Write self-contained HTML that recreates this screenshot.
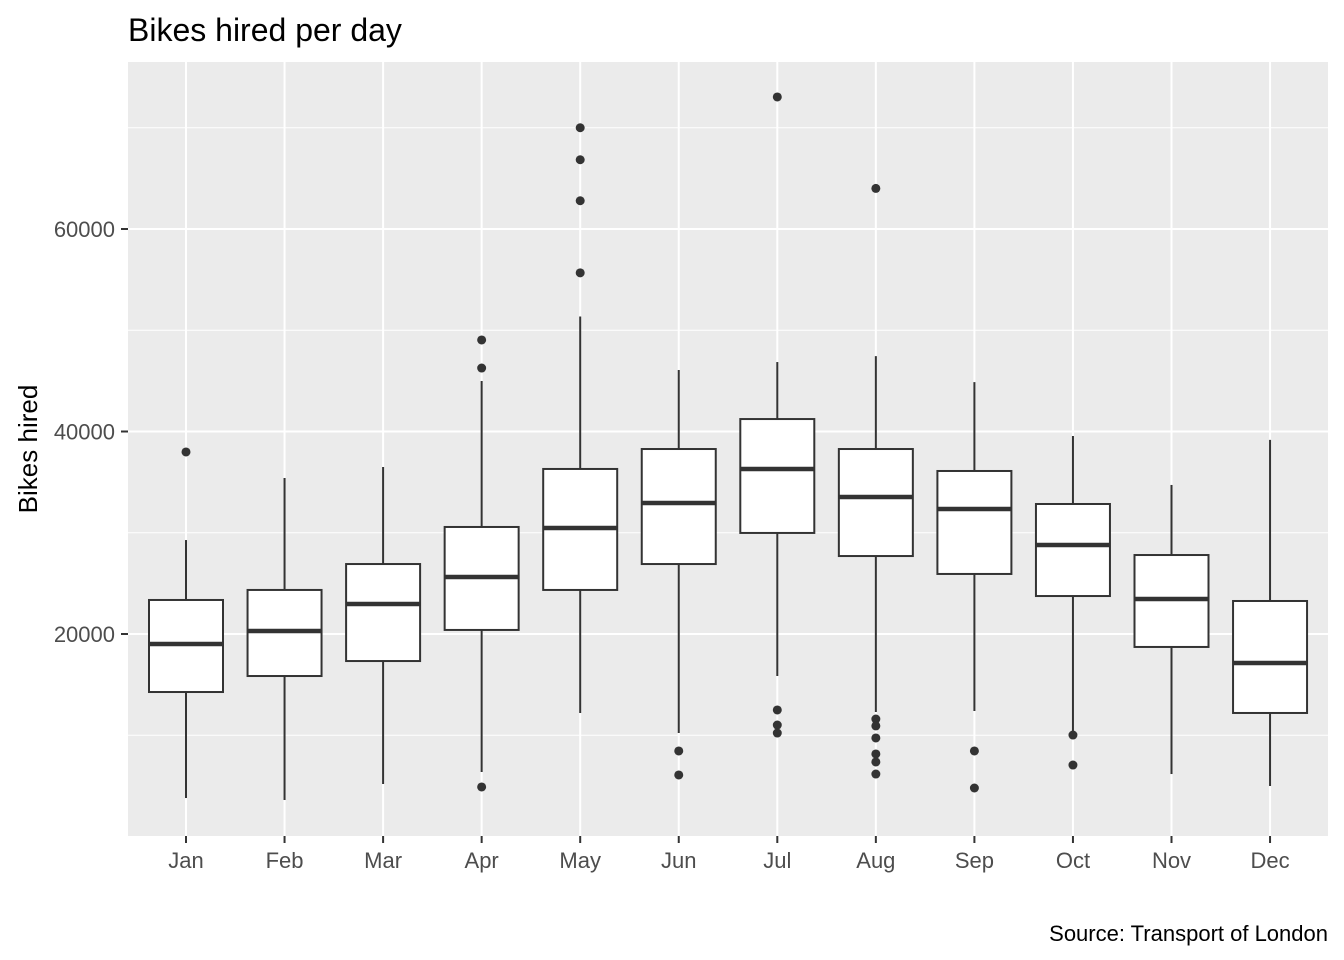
<!DOCTYPE html>
<html><head><meta charset="utf-8"><style>
body{margin:0;background:#fff;}
svg{display:block;font-family:"Liberation Sans",Arial,sans-serif;}
</style></head><body>
<svg id="chart" width="1344" height="960" xmlns="http://www.w3.org/2000/svg">
<text x="128" y="41" font-size="32" fill="#000">Bikes hired per day</text>
<rect x="128" y="62" width="1200" height="774" fill="#ebebeb"/>
<g id="grid"></g>
<g id="boxes"></g>
<g id="axes"></g>
<text transform="translate(37,449) rotate(-90)" text-anchor="middle" font-size="26" fill="#000">Bikes hired</text>
<text x="1328" y="941" text-anchor="end" font-size="22" fill="#000">Source: Transport of London</text>
</svg>
<script>
const months=["Jan","Feb","Mar","Apr","May","Jun","Jul","Aug","Sep","Oct","Nov","Dec"];
const whiskerLow=[3800,3600,5190,6370,12200,10220,15850,12300,12400,10120,6170,4990];
const q1=[14270,15850,17330,20400,24350,26910,29980,27700,25930,23750,18720,12200];
const medians=[19010,20300,22960,25630,30470,32940,36300,33530,32350,28790,23460,17140];
const q3=[23360,24350,26910,30570,36300,38270,41230,38270,36100,32840,27800,23260];
const whiskerHigh=[29280,35410,36490,44990,51360,46070,46860,47450,44880,39560,34720,39170];
const outliers=[[37980],[],[],[49040,46270,4890],[70000,66840,62790,55670],[8450,6080],[73040,12500,11010,10220],[64010,11600,10920,9730,8150,7360,6170],[8450,4790],[10020,7060],[],[]];
const majorTicks=[20000,40000,60000];
const minorTicks=[10000,30000,50000,70000];

const NS="http://www.w3.org/2000/svg";
const y=v=>836.5-v*202.5/20000;
const x=i=>186+i*98.55;
const bw=74;
function mk(p,tag,attrs){const e=document.createElementNS(NS,tag);for(const k in attrs)e.setAttribute(k,attrs[k]);p.appendChild(e);return e;}
const grid=document.getElementById('grid'),boxes=document.getElementById('boxes'),axes=document.getElementById('axes');
minorTicks.forEach(t=>{const l=mk(grid,'line',{x1:128,x2:1328,y1:y(t),y2:y(t),stroke:'#fff','stroke-width':1});

});
majorTicks.forEach(t=>{const l=mk(grid,'line',{x1:128,x2:1328,y1:y(t),y2:y(t),stroke:'#fff','stroke-width':2});


const tk=mk(axes,'line',{x1:121,x2:128,y1:y(t),y2:y(t),stroke:'#333','stroke-width':2});


const tx=mk(axes,'text',{x:115,y:y(t)+8,'text-anchor':'end','font-size':22,fill:'#4d4d4d'});tx.textContent=t;

});
months.forEach((m,i)=>{const cx=x(i);
const g=mk(grid,'line',{x1:cx,x2:cx,y1:62,y2:836,stroke:'#fff','stroke-width':2});


const b=mk(boxes,'g',{});


mk(b,'line',{x1:cx,x2:cx,y1:y(whiskerHigh[i]),y2:y(q3[i]),stroke:'#333','stroke-width':2});
mk(b,'line',{x1:cx,x2:cx,y1:y(q1[i]),y2:y(whiskerLow[i]),stroke:'#333','stroke-width':2});
mk(b,'rect',{x:cx-bw/2,y:y(q3[i]),width:bw,height:y(q1[i])-y(q3[i]),fill:'#fff',stroke:'#333','stroke-width':2});
mk(b,'line',{x1:cx-bw/2,x2:cx+bw/2,y1:y(medians[i]),y2:y(medians[i]),stroke:'#333','stroke-width':4.5});
outliers[i].forEach(o=>{const c=mk(b,'circle',{cx:cx,cy:y(o),r:4.5,fill:'#333'});

});
const tk=mk(axes,'line',{x1:cx,x2:cx,y1:836,y2:843,stroke:'#333','stroke-width':2});


const tx=mk(axes,'text',{x:cx,y:868,'text-anchor':'middle','font-size':22,fill:'#4d4d4d'});tx.textContent=m;

});
</script>
</body></html>
